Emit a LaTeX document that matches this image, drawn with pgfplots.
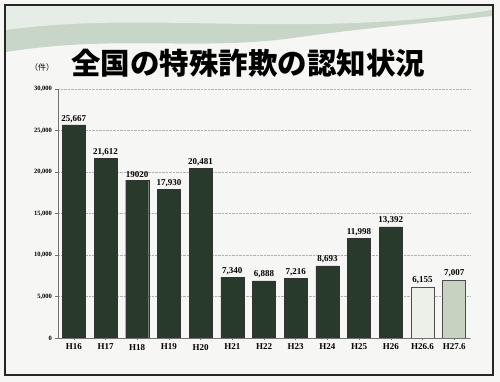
\documentclass[border=0pt]{standalone}
\usepackage{pgfplots}
\pgfplotsset{compat=1.18}
\usepackage{fontspec}
\setmainfont{Liberation Serif}
\newfontfamily\cjk{Noto Sans CJK JP}
\definecolor{darkbar}{RGB}{40,58,44}
\definecolor{lightbar}{RGB}{236,240,232}
\definecolor{midbar}{RGB}{200,210,192}
\definecolor{bg}{RGB}{246,247,244}
\definecolor{swoosh}{RGB}{200,214,202}
\begin{document}
\begin{tikzpicture}[x=1pt,y=1pt]
\path[fill=bg] (0,0) rectangle (500,382);
\path[fill=swoosh] (6,376) -- (6,330) .. controls (120,348) and (200,330) .. (300,345) .. controls (380,356) and (440,360) .. (492,366) -- (492,376) -- cycle;
\path[fill=white!55!swoosh] (6,376) -- (6,352) .. controls (150,372) and (300,342) .. (492,372) -- (492,376) -- cycle;
\draw[line width=1.6pt, black!85] (5,7) rectangle (493,377);
\node[font=\cjk\bfseries\fontsize{29.5}{32}\selectfont, anchor=center] at (248,319) {全国の特殊詐欺の認知状況};
\node[font=\cjk\fontsize{8}{9}\selectfont] at (42,315) {（件）};
\begin{axis}[
  scale only axis,
  at={(58pt,44pt)}, anchor=south west,
  width=412pt, height=249pt,
  xmin=-0.5, xmax=12.5,
  ymin=0, ymax=30000,
  axis x line*=bottom, axis y line*=left,
  axis line style={black!55, thin},
  ytick={0,5000,...,30000},
  yticklabel style={font=\bfseries\fontsize{6.5}{7}\selectfont},
  /pgf/number format/assume math mode=true,
  /pgf/number format/1000 sep={,},
  scaled y ticks=false,
  xtick={0,...,12},
  xticklabels={H16,H17,H18,H19,H20,H21,H22,H23,H24,H25,H26,H26.6,H27.6},
  xticklabel style={font=\bfseries\fontsize{9}{10}\selectfont},
  tick style={black!55, thin},
  tick align=outside, major tick length=2.5pt,
  ymajorgrids, grid style={black!30, densely dotted, thin},
  ybar, bar width=23pt, bar shift=0pt,
  point meta=explicit symbolic,
  nodes near coords,
  every node near coord/.append style={font=\bfseries\fontsize{9}{10}\selectfont, black, yshift=-1pt},
]
\addplot[fill=darkbar, draw=black!80] coordinates {
 (0,25667) [25,667]
 (1,21612) [21,612]
 (2,19020) [19020]
 (3,17930) [17,930]
 (4,20481) [20,481]
 (5,7340) [7,340]
 (6,6888) [6,888]
 (7,7216) [7,216]
 (8,8693) [8,693]
 (9,11998) [11,998]
 (10,13392) [13,392]
};
\addplot[fill=lightbar, draw=black!70] coordinates {(11,6155) [6,155]};
\addplot[fill=midbar, draw=black!70] coordinates {(12,7007) [7,007]};
\end{axis}
\end{tikzpicture}
\end{document}
